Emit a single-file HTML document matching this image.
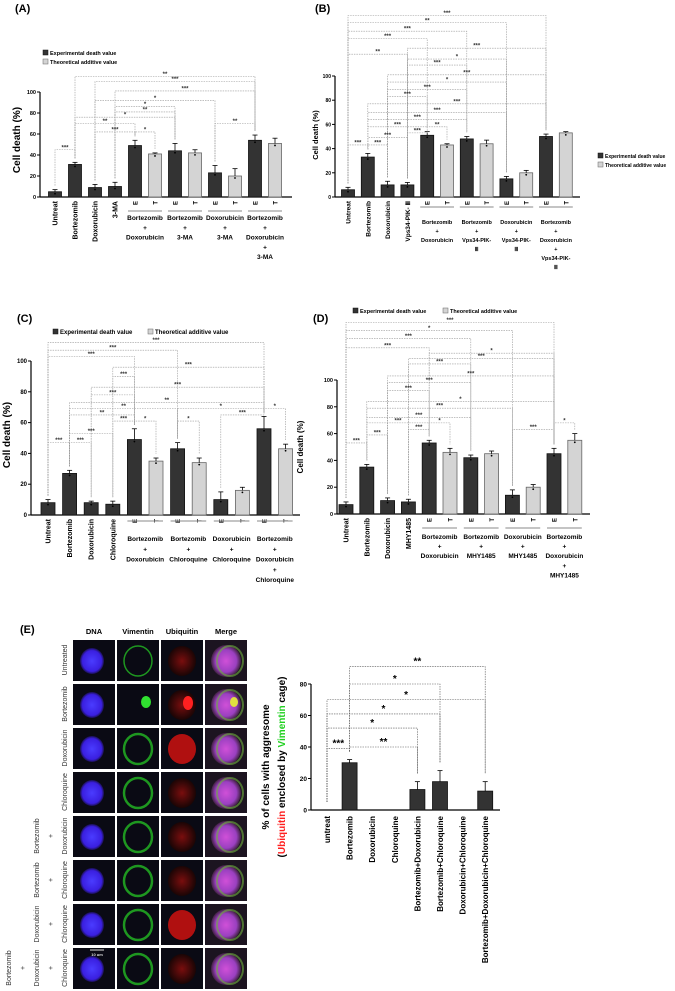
<!DOCTYPE html>
<html><head><meta charset="utf-8"><style>
html,body{margin:0;padding:0;background:#fff;}
svg{display:block;font-family:"Liberation Sans",sans-serif;font-weight:bold;}
</style></head><body>
<svg id="fig" width="675" height="991" viewBox="0 0 675 991" xmlns="http://www.w3.org/2000/svg">
<defs>
<radialGradient id="gBlue"><stop offset="0" stop-color="#4a3cff"/><stop offset="0.8" stop-color="#3a1fe0"/><stop offset="1" stop-color="#1a1050"/></radialGradient>
<radialGradient id="gRed"><stop offset="0" stop-color="#7a0e0e"/><stop offset="1" stop-color="#1a0505"/></radialGradient>
<radialGradient id="gMerge"><stop offset="0" stop-color="#d050d8"/><stop offset="0.7" stop-color="#9a40c0"/><stop offset="1" stop-color="#402040"/></radialGradient>
</defs>
</svg>
<script>
// ---------- data ----------
const catsA = ['Untreat','Bortezomib','Doxorubicin','3-MA','E','T','E','T','E','T','E','T'];
const valsA = [5,31,9,10,49,41,44,42,23,20,54,51];
const errA = [2,2,3,4,5,1,7,3,7,7,5,5];
const groupsA = [['Bortezomib','+','Doxorubicin'],['Bortezomib','+','3-MA'],['Doxorubicin','+','3-MA'],['Bortezomib','+','Doxorubicin','+','3-MA']];
const sigA = [[1,10,115,'**'],[2,10,110,'***'],[3,10,101,'***'],[2,8,92,'*'],[3,6,86,'*'],[3,6,81,'**'],[1,6,76,'*'],[1,4,70,'**'],[2,4,62,'***'],[4,5,62,'*'],[8,10,70,'**'],[0,1,45,'***']];

const catsB = ['Untreat','Bortezomib','Doxorubicin','Vps34-PIK- Ⅲ','E','T','E','T','E','T','E','T'];
const valsB = [6,33,10,10,51,43,48,44,15,20,50,53];
const errB = [2,3,3,2,3,1,2,3,2,2,2,1];
const groupsB = [['Bortezomib','+','Doxorubicin'],['Bortezomib','+','Vps34-PIK-','Ⅲ'],['Doxorubicin','+','Vps34-PIK-','Ⅲ'],['Bortezomib','+','Doxorubicin','+','Vps34-PIK-','Ⅲ']];
const sigB = [[0,10,150,'***'],[0,8,144,'**'],[0,6,137,'***'],[0,4,131,'***'],[3,10,123,'***'],[0,3,118,'**'],[3,8,114,'*'],[3,6,109,'***'],[2,10,101,'***'],[2,8,95,'*'],[2,6,89,'***'],[2,4,83,'***'],[1,10,77,'***'],[1,8,70,'***'],[1,6,64,'***'],[1,4,58,'***'],[4,5,58,'**'],[3,4,53,'***'],[1,3,49,'***'],[0,1,43,'***'],[1,2,43,'***']];

const catsC = ['Untreat','Bortezomib','Doxorubicin','Chloroquine','E','T','E','T','E','T','E','T'];
const valsC = [8,27,8,7,49,35,43,34,10,16,56,43];
const errC = [2,2,1,2,7,2,4,3,5,2,8,3];
const groupsC = [['Bortezomib','+','Doxorubicin'],['Bortezomib','+','Chloroquine'],['Doxorubicin','+','Chloroquine'],['Bortezomib','+','Doxorubicin','+','Chloroquine']];
const sigC = [[0,10,112,'***'],[0,6,107,'***'],[0,4,103,'***'],[3,10,96,'***'],[3,4,90,'***'],[2,10,83,'***'],[2,4,78,'***'],[1,10,73,'**'],[1,6,69,'**'],[6,10,69,'*'],[10,11,69,'*'],[8,10,65,'***'],[1,4,65,'**'],[3,4,61,'***'],[4,5,61,'*'],[6,7,61,'*'],[1,3,53,'***'],[0,1,47,'***'],[1,2,47,'***']];

const catsD = ['Untreat','Bortezomib','Doxorubicin','MHY1485','E','T','E','T','E','T','E','T'];
const valsD = [7,35,10,9,53,46,42,45,14,20,45,55];
const errD = [2,2,2,2,2,3,2,2,4,2,4,5];
const groupsD = [['Bortezomib','+','Doxorubicin'],['Bortezomib','+','MHY1485'],['Doxorubicin','+','MHY1485'],['Bortezomib','+','Doxorubicin','+','MHY1485']];
const sigD = [[0,10,143,'***'],[0,8,137,'*'],[0,6,131,'***'],[0,4,124,'***'],[4,10,120,'*'],[3,10,116,'***'],[3,6,112,'***'],[2,10,103,'***'],[2,6,98,'***'],[2,4,92,'***'],[1,10,84,'*'],[1,8,79,'***'],[1,6,72,'***'],[1,4,68,'***'],[4,5,68,'*'],[10,11,68,'*'],[3,4,63,'***'],[8,10,63,'***'],[1,2,59,'***'],[0,1,53,'***']];

const catsE = ['untreat','Bortezomib','Doxorubicin','Chloroquine','Bortezomib+Doxorubicin','Bortezomib+Chloroquine','Doxorubicin+Chloroquine','Bortezomib+Doxorubicin+Chloroquine'];
const valsE = [0,30,0,0,13,18,0,12];
const errE = [0,2,0,0,5,7,0,6];
const sigE = [[1,7,91,'**'],[1,5,80,'*'],[0,7,70,'*'],[0,5,61,'*'],[0,4,52,'*'],[0,1,39,'***'],[1,4,40,'**']];
const tickVals = [0,20,40,60,80,100];
const tickValsE = [0,20,40,60,80];

// ---------- drawing ----------
const NS='http://www.w3.org/2000/svg';
const svg=document.getElementById('fig');
function mk(tag,attrs,parent){const e=document.createElementNS(NS,tag);for(const k in attrs)e.setAttribute(k,attrs[k]);(parent||svg).appendChild(e);return e;}
function txt(s,attrs,parent){const t=mk('text',attrs,parent);t.textContent=s;return t;}

function panel(p){
  const g=mk('g',{});
  
  
  const X=i=>p.cx0+i*p.dx;
  const Y=v=>p.y0-v*p.k;
  const lt=txt(p.letter,{x:p.lx,y:p.ly,'font-size':11},g);
  
  
  const ya=mk('line',{x1:p.x0,y1:p.y0,x2:p.x0,y2:Y(p.ymax),stroke:'#000','stroke-width':1.2},g);
  
  
  const xa=mk('line',{x1:p.x0,y1:p.y0,x2:p.x1,y2:p.y0,stroke:'#000','stroke-width':1.2},g);
  
  
  p.ticks.forEach(v=>{
    mk('line',{x1:p.x0-3,x2:p.x0,y1:Y(v),y2:Y(v),stroke:'#000','stroke-width':1},g);
    const tl=txt(String(v),{x:p.x0-4,y:Y(v)+2,'font-size':p.tfs,'text-anchor':'end'},g);
    
    
  });
  const yt=txt('Cell death (%)',{x:0,y:0,'font-size':p.yfs,'text-anchor':'middle',transform:`translate(${p.ytx},${p.yty}) rotate(-90)`},g);
  
  
  p.vals.forEach((v,i)=>{
    const dark = i<4 || (i%2===0);
    const b=mk('rect',{x:X(i)-p.bw/2,y:Y(v),width:p.bw,height:p.y0-Y(v),fill:dark?'#333':'#d4d4d4',stroke:dark?'#111':'#666','stroke-width':0.8},g);
    
    
    const e=p.err[i];
    mk('line',{x1:X(i),x2:X(i),y1:Y(v),y2:Y(v+e),stroke:'#000','stroke-width':0.8},g);
    mk('line',{x1:X(i)-2.5,x2:X(i)+2.5,y1:Y(v+e),y2:Y(v+e),stroke:'#000','stroke-width':0.8},g);
    mk('circle',{cx:X(i),cy:Y(v)+2,r:0.9,fill:'#000'},g);
  });
  p.cats.forEach((c,i)=>{
    const t=txt(c,{x:0,y:0,'font-size':i<4?p.nfs:6,'text-anchor':'end',transform:`translate(${X(i)+2.5},${p.y0+4}) rotate(-90)`},g);
    
    
  });
  p.groups.forEach((gr,j)=>{
    const a=X(4+2*j), b=X(5+2*j);
    mk('line',{x1:a-7,x2:b+7,y1:p.uy,y2:p.uy,stroke:'#888','stroke-width':1},g);
    gr.forEach((s,k)=>{
      const t=txt(s,{x:(a+b)/2,y:p.gy+k*p.gdy,'font-size':p.gfs,'text-anchor':'middle'},g);
      
      
    });
  });
  p.sig.forEach(s=>{
    const [i,j,lv,lab]=s;
    const yy=Y(lv);
    const bg=mk('g',{},g);
    
    
    const st={stroke:'#9a9a9a','stroke-width':0.6,'stroke-dasharray':'1.5,1',fill:'none'};
    mk('polyline',Object.assign({points:`${X(i)},${Y(p.vals[i]+p.err[i])-4} ${X(i)},${yy} ${X(j)},${yy} ${X(j)},${Y(p.vals[j]+p.err[j])-4}`},st),bg);
    txt(lab,{x:(X(i)+X(j))/2,y:yy-0.5,'font-size':6,'text-anchor':'middle',fill:'#333'},bg);
  });
  const lg=mk('g',{},g);
  
  
  const L=p.leg;
  mk('rect',{x:L.x1,y:L.y1-5,width:5,height:5,fill:'#333',stroke:'#111','stroke-width':0.5},lg);
  txt('Experimental death value',{x:L.x1+7,y:L.y1,'font-size':L.fs},lg);
  mk('rect',{x:L.x2,y:L.y2-5,width:5,height:5,fill:'#d4d4d4',stroke:'#666','stroke-width':0.5},lg);
  txt('Theoretical additive value',{x:L.x2+7,y:L.y2,'font-size':L.fs},lg);
}

panel({name:'panel-a',letter:'(A)',lx:15,ly:12,x0:40,x1:292,y0:197,k:1.05,ymax:100,ticks:tickVals,tfs:5.5,yfs:10,ytx:20,yty:140,
  cx0:55,dx:20,bw:13,vals:valsA,err:errA,cats:catsA,groups:groupsA,sig:sigA,nfs:7,uy:211,gy:220,gdy:9.8,gfs:6.5,
  leg:{x1:43,y1:55,x2:43,y2:64,fs:5.5}});
panel({name:'panel-b',letter:'(B)',lx:315,ly:12,x0:335,x1:580,y0:197,k:1.21,ymax:100,ticks:tickVals,tfs:5,yfs:7.5,ytx:318,yty:135,
  cx0:348,dx:19.8,bw:13,vals:valsB,err:errB,cats:catsB,groups:groupsB,sig:sigB,nfs:6.5,uy:207,gy:224,gdy:9,gfs:5.5,
  leg:{x1:598,y1:158,x2:598,y2:167,fs:5}});
panel({name:'panel-c',letter:'(C)',lx:17,ly:322,x0:31,x1:300,y0:515,k:1.54,ymax:100,ticks:tickVals,tfs:6,yfs:10,ytx:10,yty:435,
  cx0:48,dx:21.6,bw:14,vals:valsC,err:errC,cats:catsC,groups:groupsC,sig:sigC,nfs:7,uy:521,gy:541,gdy:10.3,gfs:6.5,
  leg:{x1:53,y1:334,x2:148,y2:334,fs:6}});
panel({name:'panel-d',letter:'(D)',lx:313,ly:322,x0:337,x1:590,y0:514,k:1.34,ymax:100,ticks:tickVals,tfs:5.5,yfs:8,ytx:303,yty:447,
  cx0:346,dx:20.8,bw:14,vals:valsD,err:errD,cats:catsD,groups:groupsD,sig:sigD,nfs:7,uy:528,gy:539,gdy:9.6,gfs:6.5,
  leg:{x1:353,y1:313,x2:443,y2:313,fs:5.5}});

// ---------- panel E ----------
(function(){
  const g=mk('g',{});
  
  
  const el=txt('(E)',{x:20,y:633,'font-size':11},g);
  
  
  const heads=['DNA','Vimentin','Ubiquitin','Merge'];
  const colX=[73,117,161,205];
  heads.forEach((h,i)=>{
    const t=txt(h,{x:colX[i]+21,y:634,'font-size':7.5,'text-anchor':'middle'},g);
    
    
  });
  const rowLabels=[['Untreated'],['Bortezomib'],['Doxorubicin'],['Chloroquine'],['Bortezomib','+','Doxorubicin'],['Bortezomib','+','Chloroquine'],['Doxorubicin','+','Chloroquine'],['Bortezomib','+','Doxorubicin','+','Chloroquine']];
  rowLabels.forEach((rl,r)=>{
    const ry=640+r*44;
    rl.forEach((s,k)=>{
      const x=65-(rl.length-1-k)*14;
      const t=txt(s,{x:0,y:0,'font-size':7,'font-weight':'normal','text-anchor':'middle',fill:'#333',transform:`translate(${x+2},${ry+20}) rotate(-90)`},g);
      
      
    });
    for(let c=0;c<4;c++){
      const x=colX[c];
      const cg=mk('g',{},g);
      
      
      mk('rect',{x:x,y:ry,width:42,height:41,fill:c===3?'#1c1420':'#0a0a14'},cg);
      const cx=x+21, cy=ry+21;
      if(c===0) mk('ellipse',{cx:cx-2,cy:cy,rx:12,ry:13,fill:'url(#gBlue)'},cg);
      if(c===1){
        if(r===1) mk('ellipse',{cx:cx+8,cy:cy-3,rx:5,ry:6,fill:'#30e030'},cg);
        else mk('ellipse',{cx:cx,cy:cy,rx:14,ry:15,fill:'none',stroke:'#22b022','stroke-width':r===0?1.5:2.5,opacity:0.85},cg);
      }
      if(c===2){
        mk('ellipse',{cx:cx,cy:cy,rx:14,ry:15,fill:r===2||r===6?'#b01010':'url(#gRed)'},cg);
        if(r===1) mk('ellipse',{cx:cx+6,cy:cy-2,rx:5,ry:7,fill:'#ff2020'},cg);
      }
      if(c===3){
        mk('ellipse',{cx:cx,cy:cy,rx:15,ry:16,fill:'url(#gMerge)'},cg);
        mk('ellipse',{cx:cx+4,cy:cy,rx:13,ry:15,fill:'none',stroke:'#70b040','stroke-width':2,opacity:0.6},cg);
        if(r===1) mk('ellipse',{cx:cx+8,cy:cy-3,rx:4,ry:5,fill:'#e0e040'},cg);
      }
    }
  });
  const sb=mk('line',{x1:90,x2:104,y1:950,y2:950,stroke:'#ddd','stroke-width':1},g);
  
  
  txt('10 um',{x:97,y:956,'font-size':4,fill:'#ddd','text-anchor':'middle'},g);

  const x0=311,x1=500,y0=810,k=1.575;
  const X=i=>327+i*22.6;
  const Y=v=>y0-v*k;
  const ya=mk('line',{x1:x0,x2:x0,y1:y0,y2:Y(80),stroke:'#000','stroke-width':1.2},g);
  
  
  const xa=mk('line',{x1:x0,x2:x1,y1:y0,y2:y0,stroke:'#000','stroke-width':1.2},g);
  
  
  tickValsE.forEach(v=>{
    mk('line',{x1:x0-3,x2:x0,y1:Y(v),y2:Y(v),stroke:'#000','stroke-width':1},g);
    const t=txt(String(v),{x:x0-4,y:Y(v)+2.5,'font-size':6.5,'text-anchor':'end'},g);
    
    
  });
  const t1=txt('% of cells with aggresome',{x:0,y:0,'font-size':10,'text-anchor':'middle',transform:'translate(269,767) rotate(-90)'},g);
  
  
  const t2=mk('text',{x:0,y:0,'font-size':10,'text-anchor':'middle',transform:'translate(285,767) rotate(-90)'},g);
  
  
  [['(','#000'],['Ubiquitin','#ff2020'],[' enclosed by ','#000'],['Vimentin','#20d020'],[' cage)','#000']].forEach(([s,c])=>{const ts=mk('tspan',{fill:c},t2);ts.textContent=s;});
  valsE.forEach((v,i)=>{
    const b=mk('rect',{x:X(i)-7.5,y:Y(v),width:15,height:y0-Y(v),fill:'#333',stroke:'#111','stroke-width':0.8},g);
    
    
    const e=errE[i];
    mk('line',{x1:X(i),x2:X(i),y1:Y(v),y2:Y(v+e),stroke:'#000','stroke-width':0.8},g);
    mk('line',{x1:X(i)-2.5,x2:X(i)+2.5,y1:Y(v+e),y2:Y(v+e),stroke:'#000','stroke-width':0.8},g);
    const t=txt(catsE[i],{x:0,y:0,'font-size':8,'text-anchor':'end',transform:`translate(${X(i)+3},${y0+6}) rotate(-90)`},g);
    
    
  });
  sigE.forEach(s=>{
    const [i,j,lv,lab]=s;
    const yy=Y(lv);
    const bg=mk('g',{},g);
    
    
    mk('polyline',{points:`${X(i)},${Y(valsE[i]+errE[i])-8} ${X(i)},${yy} ${X(j)},${yy} ${X(j)},${Y(valsE[j]+errE[j])-8}`,stroke:'#555','stroke-width':0.6,'stroke-dasharray':'1.5,1',fill:'none'},bg);
    txt(lab,{x:(X(i)+X(j))/2,y:yy-2,'font-size':10,'text-anchor':'middle'},bg);
  });
})();
</script>
</body></html>
